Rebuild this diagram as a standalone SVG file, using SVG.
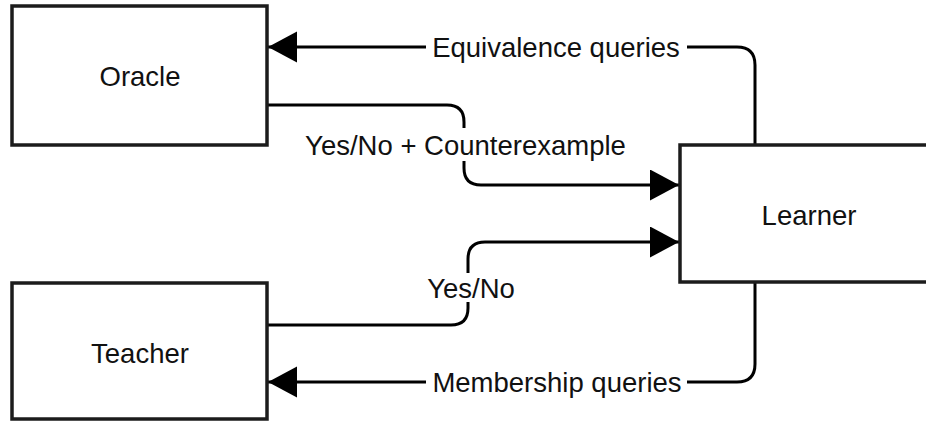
<svg xmlns="http://www.w3.org/2000/svg" width="926" height="421" viewBox="0 0 926 421">
<style>
.box{fill:#fff;stroke:#1c1c1c;stroke-width:3.5}
.lbl{font-family:"Liberation Sans",Arial,sans-serif;font-size:27.5px;fill:#111;text-anchor:middle}
.edge{fill:none;stroke:#000;stroke-width:3}
.bg{fill:#fff;stroke:none}
</style>
<defs>
<marker id="arr" markerUnits="userSpaceOnUse" markerWidth="30" markerHeight="32" refX="29" refY="15.5" orient="auto">
<polygon points="0,0 29,15.5 0,31" fill="#000"/>
</marker>
</defs>
<rect width="926" height="421" fill="#fff"/>
<g id="connectors">
<path class="edge" d="M755,145 V65 Q755,47 737,47 H268" marker-end="url(#arr)"/>
<path class="edge" d="M267,105 H447 Q464,105 464,122 V168 Q464,185 481,185 H679" marker-end="url(#arr)"/>
<path class="edge" d="M267,325 H451 Q468,325 468,308 V259 Q468,242 485,242 H679" marker-end="url(#arr)"/>
<path class="edge" d="M755,283 V364 Q755,382 737,382 H268" marker-end="url(#arr)"/>
<g id="edge-labels">
<rect class="bg" x="426" y="33" width="261" height="28"/>
<text class="lbl" x="556" y="57">Equivalence queries</text>
<rect class="bg" x="300" y="128" width="332" height="33"/>
<text class="lbl" x="465.5" y="155">Yes/No + Counterexample</text>
<rect class="bg" x="424" y="273" width="94" height="29"/>
<text class="lbl" x="471" y="298">Yes/No</text>
<rect class="bg" x="426" y="368" width="261" height="28"/>
<text class="lbl" x="557" y="392">Membership queries</text>
</g>
</g>
<g id="oracle">
<rect class="box" x="12" y="6" width="255" height="139"/>
<text class="lbl" x="140" y="86">Oracle</text>
</g>
<g id="learner">
<rect class="box" x="680" y="145" width="258" height="137"/>
<text class="lbl" x="809" y="225">Learner</text>
</g>
<g id="teacher">
<rect class="box" x="12" y="283" width="255" height="136"/>
<text class="lbl" x="140" y="363">Teacher</text>
</g>
</svg>
